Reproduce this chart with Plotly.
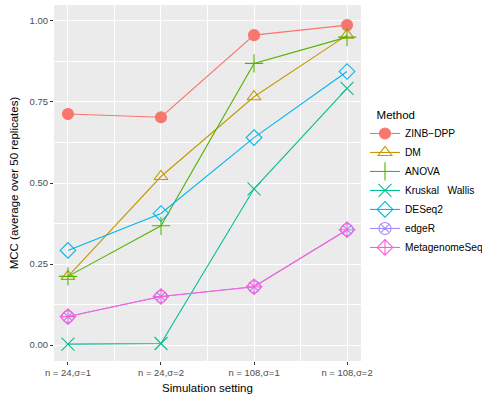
import plotly.graph_objects as go

# Simulation settings (x axis)
settings = ["n = 24,\u03c3=1", "n = 24,\u03c3=2", "n = 108,\u03c3=1", "n = 108,\u03c3=2"]
x_pos = [0, 1, 2, 3]

# Mean MCC over 50 replicates for each method
zinb_dpp = [0.713, 0.703, 0.956, 0.987]
dm = [0.212, 0.520, 0.766, 0.956]
anova = [0.212, 0.368, 0.869, 0.950]
kruskal = [0.003, 0.005, 0.482, 0.792]
deseq2 = [0.292, 0.406, 0.640, 0.844]
edger = [0.088, 0.150, 0.180, 0.356]
metagenomeseq = [0.088, 0.150, 0.180, 0.356]

methods = [
    ("ZINB\u2212DPP", zinb_dpp, "#F8766D", "circle"),
    ("DM", dm, "#C49A00", "triangle-up-open"),
    ("ANOVA", anova, "#53B400", "cross-thin-open"),
    ("Kruskal\u00a0\u00a0\u00a0Wallis", kruskal, "#00C094", "x-thin-open"),
    ("DESeq2", deseq2, "#00B6EB", "diamond-open"),
    ("edgeR", edger, "#A58AFF", "circle-x-open"),
    ("MetagenomeSeq", metagenomeseq, "#FB61D7", "diamond-cross-open"),
]

fig = go.Figure()
for name, vals, color, symbol in methods:
    size = 12 if symbol != "circle" else 11
    if symbol in ("cross-thin-open", "x-thin-open"):
        size = 13
    fig.add_trace(go.Scatter(
        x=x_pos, y=vals, name=name, mode="lines+markers",
        line=dict(color=color, width=1.1),
        marker=dict(symbol=symbol, size=size, color=color,
                    line=dict(color=color, width=1.1)),
    ))

fig.update_layout(
    width=482, height=400,
    margin=dict(l=54, r=121, t=5, b=39, autoexpand=False),
    paper_bgcolor="white",
    plot_bgcolor="#EBEBEB",
    font=dict(family="Liberation Sans, Arial, sans-serif", color="black"),
    showlegend=True,
    legend=dict(
        title=dict(text="\u00a0\u00a0\u00a0Method", font=dict(size=11.5, color="black")),
        font=dict(size=10.2, color="black"),
        xref="container", x=365 / 482, xanchor="left",
        y=0.5, yanchor="middle",
        bgcolor="rgba(0,0,0,0)",
        tracegroupgap=0, itemwidth=30,
    ),
    xaxis=dict(
        range=[-0.15, 3.15],
        tickvals=x_pos, ticktext=settings,
        ticks="outside", ticklen=3, tickcolor="#333333", tickwidth=1,
        tickfont=dict(size=9.5, color="#4D4D4D"),
        showgrid=True, gridcolor="white", gridwidth=1.1,
        zeroline=False, showline=False,
        minor=dict(tickvals=[0.5, 1.5, 2.5], showgrid=True,
                   gridcolor="white", gridwidth=0.55, ticks=""),
        title=dict(text="Simulation setting", font=dict(size=11.5, color="black"),
                   standoff=6),
    ),
    yaxis=dict(
        range=[-0.049, 1.049],
        tickvals=[0, 0.25, 0.5, 0.75, 1.0],
        ticktext=["0.00", "0.25", "0.50", "0.75", "1.00"],
        ticks="outside", ticklen=3, tickcolor="#333333", tickwidth=1,
        tickfont=dict(size=9.5, color="#4D4D4D"),
        showgrid=True, gridcolor="white", gridwidth=1.1,
        zeroline=False, showline=False,
        minor=dict(tickvals=[0.125, 0.375, 0.625, 0.875], showgrid=True,
                   gridcolor="white", gridwidth=0.55, ticks=""),
        title=dict(text="MCC (average over 50 replicates)",
                   font=dict(size=11.5, color="black"), standoff=8),
    ),
)

fig.write_html("out.html")
